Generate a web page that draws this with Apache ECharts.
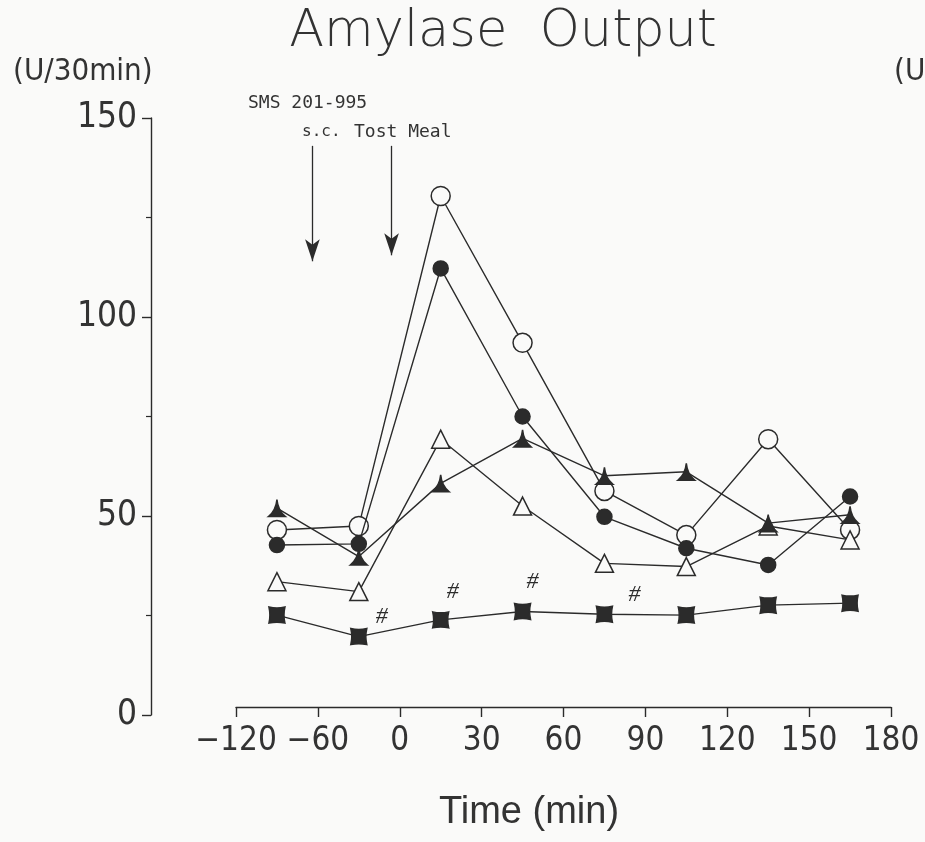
<!DOCTYPE html>
<html>
<head>
<meta charset="utf-8">
<title>Amylase Output</title>
<script src="https://cdn.jsdelivr.net/npm/echarts@6/dist/echarts.min.js"></script>
<style>
  html, body { margin: 0; padding: 0; background: #fafaf9; }
  #chart { width: 925px; height: 842px; }
</style>
</head>
<body>
<div id="chart"></div>
<script>
// Sampling times (min, plotted at the middle of each 30-min collection)
const timePoints = [-45, -15, 15, 45, 75, 105, 135, 165];

// Amylase output (U/30min) for each group
const openCircle     = [46.5, 47.5, 130.4, 93.5, 56.3, 45.2, 69.3, 46.5];
const filledCircle   = [42.7, 43.0, 112.2, 75.0, 49.8, 41.9, 37.7, 54.9];
const openTriangle   = [33.5, 31.0, 69.3, 52.5, 38.1, 37.3, 47.5, 44.0];
const filledTriangle = [52.0, 39.8, 58.2, 69.5, 60.1, 61.1, 48.2, 50.3];
const filledSquare   = [25.1, 19.7, 23.9, 26.0, 25.3, 25.1, 27.6, 28.1];

// Points of the square group marked as significant (#)
const significant = [false, true, true, true, true, false, false, false];

// Time axis ticks and the labels printed under them
const xTickValues = [-60, -30, 0, 30, 60, 90, 120, 150, 180];
const xTickLabels = ['\u2212120', '\u221260', '0', '30', '60', '90', '120', '150', '180'];

// Injection / meal times (min)
const eventTimes = [-32, -3];

const INK = '#2b2b2b';
const PAPER = '#fafaf9';
const NARROW = "'Liberation Sans Narrow', 'DejaVu Sans Condensed', 'Roboto', sans-serif";
const MONO = "'DejaVu Sans Mono', 'Liberation Mono', monospace";

// Slightly concave-sided filled symbols
const concaveTriangle = 'path://M50,0 Q56,64 100,100 L0,100 Q44,64 50,0 Z';
const concaveSquare = 'path://M0,0 Q50,12 100,0 Q88,50 100,100 Q50,88 0,100 Q12,50 0,0 Z';

// Offsets of the # signs from their square markers
const hashOffsets = [[0, 0], [23, -20], [12, -28], [10, -30], [30, -20], [0, 0], [0, 0], [0, 0]];

function pairs(values) {
  return timePoints.map((t, i) => [t, values[i]]);
}

function lineSeries(name, values, symbol, size, fill, z) {
  return {
    name: name,
    type: 'line',
    data: pairs(values),
    symbol: symbol,
    symbolSize: size,
    showAllSymbol: true,
    z: z,
    lineStyle: { color: INK, width: 1.4 },
    itemStyle: { color: fill, borderColor: INK, borderWidth: 1.5 },
    emphasis: { disabled: true },
    animation: false
  };
}

const squareSeries = lineSeries('square', filledSquare, concaveSquare, 16, INK, 5);
squareSeries.data = timePoints.map((t, i) => ({
  value: [t, filledSquare[i]],
  label: {
    show: significant[i],
    formatter: '#',
    position: 'inside',
    offset: hashOffsets[i],
    fontFamily: "'Liberation Serif', serif",
    fontStyle: 'italic',
    fontSize: 24,
    color: INK
  }
}));

const openCircleSeries = lineSeries('openCircle', openCircle, 'circle', 19, PAPER, 3);
openCircleSeries.markLine = {
  silent: true,
  symbol: ['none', 'arrow'],
  symbolSize: [11, 22],
  label: { show: false },
  lineStyle: { color: INK, width: 1.3, type: 'solid' },
  data: eventTimes.map((t, i) => [
    { coord: [t, 143] },
    { coord: [t, i === 0 ? 114 : 115.5] }
  ]),
  animation: false
};

const chart = echarts.init(document.getElementById('chart'), null, { renderer: 'canvas' });

chart.setOption({
  backgroundColor: PAPER,
  animation: false,
  grid: { left: 236, right: 34, top: 118, bottom: 127 },
  xAxis: {
    type: 'value',
    min: -60,
    max: 180,
    interval: 30,
    offset: -8,
    axisLine: { show: true, onZero: false, lineStyle: { color: INK, width: 1.4 } },
    axisTick: { show: true, inside: false, length: 10, lineStyle: { color: INK, width: 1.4 } },
    splitLine: { show: false },
    axisLabel: {
      margin: 18,
      fontFamily: NARROW,
      fontSize: 33,
      color: '#333',
      formatter: v => {
        const k = xTickValues.indexOf(v);
        return k >= 0 ? xTickLabels[k] : '';
      }
    }
  },
  yAxis: {
    type: 'value',
    position: 'left',
    min: 0,
    max: 150,
    interval: 50,
    offset: 85,
    axisLine: { show: true, onZero: false, lineStyle: { color: INK, width: 1.4 } },
    axisTick: { show: true, inside: false, length: 9, lineStyle: { color: INK, width: 1.4 } },
    minorTick: { show: true, splitNumber: 2, length: 5, lineStyle: { color: INK, width: 1.2 } },
    splitLine: { show: false },
    axisLabel: { margin: 14, fontFamily: NARROW, fontSize: 35, color: '#333' }
  },
  series: [
    squareSeries,
    lineSeries('openTriangle', openTriangle, 'triangle', 18, PAPER, 4),
    openCircleSeries,
    lineSeries('filledTriangle', filledTriangle, concaveTriangle, 17, INK, 6),
    lineSeries('filledCircle', filledCircle, 'circle', 15, INK, 7)
  ],
  graphic: [
    {
      type: 'text', x: 503, y: 33,
      style: {
        text: 'Amylase  Output', textAlign: 'center', textVerticalAlign: 'middle',
        fontFamily: "'DejaVu Sans', sans-serif", fontWeight: 200, fontSize: 51, fill: '#333'
      }
    },
    {
      type: 'text', x: 13, y: 72,
      style: {
        text: '(U/30min)', textAlign: 'left', textVerticalAlign: 'middle',
        fontFamily: NARROW, fontSize: 31, fill: '#333'
      }
    },
    {
      type: 'text', x: 894, y: 72,
      style: {
        text: '(U/30min)', textAlign: 'left', textVerticalAlign: 'middle',
        fontFamily: NARROW, fontSize: 31, fill: '#333'
      }
    },
    {
      type: 'text', x: 248, y: 103,
      style: {
        text: 'SMS 201-995', textAlign: 'left', textVerticalAlign: 'middle',
        fontFamily: MONO, fontSize: 18, fill: '#333'
      }
    },
    {
      type: 'text', x: 302, y: 132,
      style: {
        text: 's.c.', textAlign: 'left', textVerticalAlign: 'middle',
        fontFamily: MONO, fontSize: 16, fill: '#333'
      }
    },
    {
      type: 'text', x: 354, y: 132,
      style: {
        text: 'Tost Meal', textAlign: 'left', textVerticalAlign: 'middle',
        fontFamily: MONO, fontSize: 18, fill: '#333'
      }
    },
    {
      type: 'text', x: 529, y: 813,
      style: {
        text: 'Time (min)', textAlign: 'center', textVerticalAlign: 'middle',
        fontFamily: "'Liberation Sans', 'Arial', sans-serif", fontSize: 38, fill: '#333'
      }
    }
  ]
});
</script>
</body>
</html>
